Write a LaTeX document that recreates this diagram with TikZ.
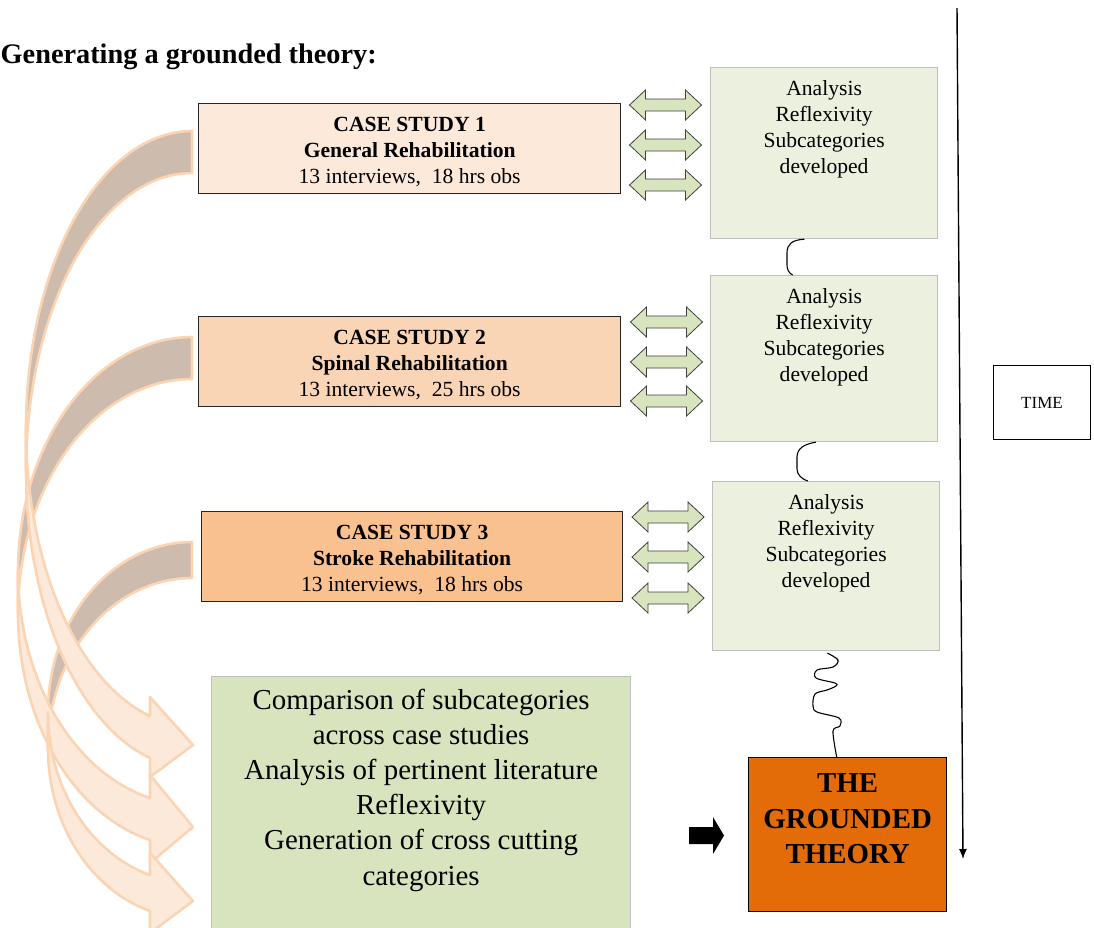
\documentclass[tikz,border=0pt]{standalone}
\usepackage{fontspec}
\setmainfont{Liberation Serif}
\usetikzlibrary{arrows.meta}

\definecolor{caseA}{HTML}{FCE9DA}
\definecolor{caseB}{HTML}{FAD5B5}
\definecolor{caseC}{HTML}{F9C090}
\definecolor{anaGreen}{HTML}{EBF1DE}
\definecolor{synGreen}{HTML}{D7E4BD}
\definecolor{theoryOrange}{HTML}{E36C09}
\definecolor{ribbonBack}{HTML}{CDBBAD}
\definecolor{ribbonFront}{HTML}{FCE9DA}
\definecolor{ribbonEdge}{HTML}{FBD4B4}
\definecolor{boxGray}{HTML}{BFBFBF}

\newcommand\bodyfont{\fontsize{21.6}{26}\selectfont}
\newcommand\bigfont{\fontsize{28.9}{35.2}\selectfont}

% Curved ribbon arrow: #1 start y, #2 head y, #3 leftmost x, #4 half thickness
\newcommand\ribbongeom[3]{%
  \pgfmathsetmacro\rbrx{192-#3}%
  \pgfmathsetmacro\rbte{180+acos(42/\rbrx)}%
  \pgfmathsetmacro\rbry{(#2-#1)/(1-sin(\rbte))}%
  \pgfmathsetmacro\rbym{#1+\rbry}%
  \pgfmathsetmacro\rbyb{\rbym-\rbry*sin(\rbte)}%
}
\newcommand\ribbonback[4]{%
  \ribbongeom{#1}{#2}{#3}%
  \filldraw[ribbon, fill=ribbonBack]
    plot[domain=90:180] ({192+\rbrx*cos(\x)},{\rbym-#4-\rbry*sin(\x)})
    -- plot[domain=180:90] ({192+\rbrx*cos(\x)},{\rbym+#4-\rbry*sin(\x)}) -- cycle;
}
% #5 half height of the arrow head
\newcommand\ribbonfront[5]{%
  \ribbongeom{#1}{#2}{#3}%
  \filldraw[ribbon, fill=ribbonFront]
    plot[domain=180:\rbte] ({192+\rbrx*cos(\x)},{\rbym-#4-\rbry*sin(\x)})
    -- (150,{\rbyb-#5}) -- (193,{\rbyb+8}) -- (150,{\rbyb+#5})
    -- plot[domain=\rbte:180] ({192+\rbrx*cos(\x)},{\rbym+#4-\rbry*sin(\x)}) -- cycle;
}

\begin{document}
\begin{tikzpicture}[x=1pt, y=-1pt,
  ribbon/.style={draw=ribbonEdge, line width=2.6pt, line join=round, samples=60},
  casebox/.style={draw=black!85, line width=1.3pt, anchor=north west, inner sep=0pt,
    minimum width=422pt, minimum height=90pt},
  casetext/.style={align=center, font=\bodyfont, inner sep=0pt},
  anabox/.style={draw=boxGray, line width=1.2pt, fill=anaGreen, anchor=north west,
    inner sep=0pt, minimum width=227pt},
  anatext/.style={align=center, font=\bodyfont, inner sep=0pt},
  squig/.style={line width=1.1pt, line cap=round, line join=round},
  dblarrow/.pic={\filldraw[fill=synGreen, draw=black!75, line width=0.8pt]
    (-36,0) -- (-20,-15) -- (-20,-6) -- (20,-6) -- (20,-15) -- (36,0)
    -- (20,15) -- (20,6) -- (-20,6) -- (-20,15) -- cycle;}
]
\useasboundingbox (0,0) rectangle (1094,927);

% title
\node[anchor=base west, inner sep=0pt, font=\bfseries\fontsize{28.3}{34}\selectfont]
  (title) at (0.5,63) {Generating a grounded theory:};

% curved ribbons from the case studies to the synthesis box
\ribbonback{152}{737}{26}{21}
\ribbonback{358}{819}{18}{21}
\ribbonback{560}{893}{48}{18}
\ribbonfront{152}{737}{26}{21}{40}
\ribbonfront{358}{819}{18}{21}{44}
\ribbonfront{560}{893}{48}{18}{40}

% case studies
\node[casebox, fill=caseA] (cs1) at (198,103) {};
\node[casebox, fill=caseB] (cs2) at (198,316) {};
\node[casebox, fill=caseC, minimum width=421pt] (cs3) at (201,511) {};
\node[casetext] at ([yshift=-3.5pt]cs1.center)
  {\textbf{CASE STUDY 1}\\\textbf{General Rehabilitation}\\13 interviews,\ \ 18 hrs obs};
\node[casetext] at ([yshift=-3.5pt]cs2.center)
  {\textbf{CASE STUDY 2}\\\textbf{Spinal Rehabilitation}\\13 interviews,\ \ 25 hrs obs};
\node[casetext] at ([yshift=-3.5pt]cs3.center)
  {\textbf{CASE STUDY 3}\\\textbf{Stroke Rehabilitation}\\13 interviews,\ \ 18 hrs obs};

% two-way exchange arrows
\foreach \yy in {105,145,185} \pic at (665.5,\yy) {dblarrow};
\foreach \yy in {322,362,401} \pic at (666.5,\yy) {dblarrow};
\foreach \yy in {517,557,598} \pic at (668,\yy) {dblarrow};

% analysis boxes
\node[anabox, minimum height=171pt] (an1) at (710,67) {};
\node[anabox, minimum height=166pt] (an2) at (710,275) {};
\node[anabox, minimum height=169pt] (an3) at (712,481) {};
\foreach \b in {an1,an2,an3}
  \node[anatext] at ([yshift=-62pt]\b.north) {Analysis\\Reflexivity\\Subcategories\\developed};

% synthesis box
\node[draw=boxGray, line width=1.2pt, fill=synGreen, anchor=north west, inner sep=0pt,
  minimum width=419pt, minimum height=256pt] (syn) at (211,676) {};
\node[align=center, font=\bigfont, inner sep=0pt] at ([yshift=-114pt]syn.north)
  {Comparison of subcategories\\across case studies\\Analysis of pertinent literature\\Reflexivity\\Generation of cross cutting\\categories};

% the grounded theory
\node[draw=black, line width=1.4pt, fill=theoryOrange, anchor=north west, inner sep=0pt,
  minimum width=198pt, minimum height=154pt] (gt) at (748,757) {};
\node[align=center, font=\bfseries\bigfont, inner sep=0pt] at ([yshift=16pt]gt.center)
  {THE\\GROUNDED\\THEORY};

% time axis
\node[draw=black, line width=1pt, anchor=north west, inner sep=0pt,
  minimum width=97pt, minimum height=74pt, font=\fontsize{17}{20}\selectfont] (time) at (993,365) {TIME};
\coordinate (tA) at (957,8);
\coordinate (tB) at (963,859);
\draw[line width=1.4pt, -{Latex[length=10pt,width=8pt]}] (tA) -- (tB);

% squiggly links between the analysis stages
\coordinate (q1a) at ([xshift=-20pt]an1.south);
\coordinate (q1b) at ([xshift=-31.5pt]an2.north);
\draw[squig] (q1a) .. controls (792,240) and (787,244) .. (787,253) -- (787,265)
  .. controls (787,270) and (789,273) .. (q1b);
\coordinate (q2a) at ([xshift=-8.5pt]an2.south);
\coordinate (q2b) at ([xshift=-18.5pt]an3.north);
\draw[squig] (q2a) .. controls (805,444) and (797,448) .. (797,457) -- (797,469)
  .. controls (797,475) and (802,479) .. (q2b);
\coordinate (q3a) at ([xshift=1.5pt, yshift=-2pt]an3.south);
\coordinate (q3b) at ([xshift=-11pt]gt.north);
\draw[squig] plot[smooth, tension=0.55] coordinates {(q3a) (838,660) (833,667) (817,670)
  (816,678) (835,683) (836,686) (827,690) (815,694) (813,706) (817,712) (839,718)
  (840,726) (833,731) (q3b)};

% block arrow into the theory
\fill (689,827) -- (713,827) -- (713,817) -- (724,835.5) -- (713,854) -- (713,844)
  -- (689,844) -- cycle;
\end{tikzpicture}
\end{document}
